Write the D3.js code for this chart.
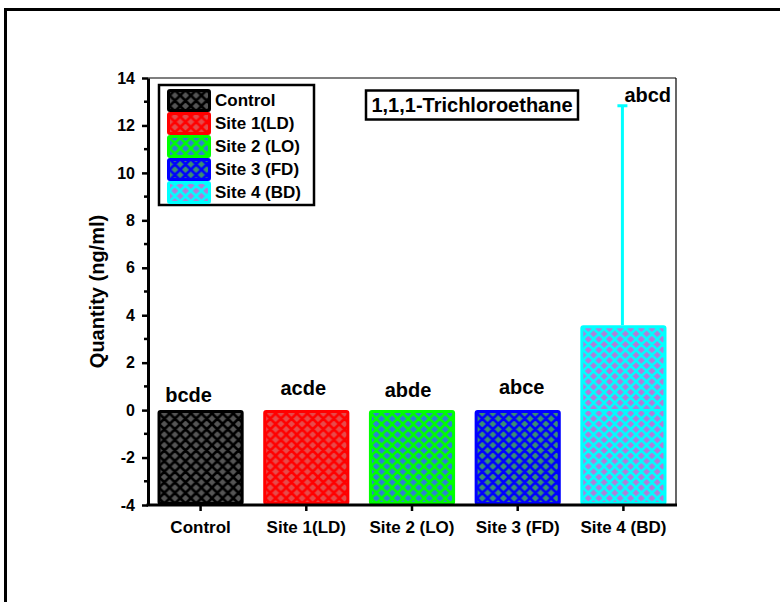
<!DOCTYPE html>
<html><head><meta charset="utf-8">
<script src="https://cdn.jsdelivr.net/npm/d3@7/dist/d3.min.js"></script>
<style>body{margin:0;background:#fff}svg{display:block}text{font-family:"Liberation Sans",Arial,sans-serif;font-weight:bold}</style>
</head><body><svg id="c" width="780" height="602"></svg>
<script>
const categories = ["Control","Site 1(LD)","Site 2 (LO)","Site 3 (FD)","Site 4 (BD)"];
const values = [0, 0, 0, 0, 3.58];
const errors = [0, 0, 0, 0, 9.25];
const letters = ["bcde","acde","abde","abce","abcd"];
const lineColors = ["#000000","#ff0000","#00ff00","#0000ff","#00ffff"];
const fillColors = ["#555555","#e64a4a","#2f7fd6","#3a8f72","#b47bd8"];
const yTicks = [-4,-2,0,2,4,6,8,10,12,14];
const title = "1,1,1-Trichloroethane";
const yLabel = "Quantity (ng/ml)";

const svg = d3.select("#c");
const FF = "Liberation Sans, Arial, sans-serif";
// outer frame
svg.append("rect").attr("x",5.5).attr("y",9.5).attr("width",800).attr("height",700)
  .attr("fill","none").attr("stroke","#000").attr("stroke-width",3);

const L=148, R=676, T=78, B=505;
const x = d3.scaleBand().domain(categories).range([L,R]).paddingInner(0.185).paddingOuter(0.09);
const y = d3.scaleLinear().domain([-4,14]).range([B,T]);

const defs = svg.append("defs");
categories.forEach((c,i)=>{
  const p = defs.append("pattern").attr("id","pat"+i).attr("patternUnits","userSpaceOnUse")
    .attr("width",10.6).attr("height",10.6);
  p.append("rect").attr("width",10.6).attr("height",10.6).attr("fill",fillColors[i]);
  p.append("path").attr("d","M0,0L10.6,10.6M10.6,0L0,10.6M-5.3,5.3L5.3,-5.3M5.3,15.9L15.9,5.3M-5.3,5.3L5.3,15.9M5.3,-5.3L15.9,5.3")
    .attr("stroke",lineColors[i]).attr("stroke-width",2.6).attr("fill","none");
});

// frame top/right thin
svg.append("line").attr("x1",L).attr("x2",R).attr("y1",T).attr("y2",T).attr("stroke","#000").attr("stroke-width",1.2);
svg.append("line").attr("x1",R).attr("x2",R).attr("y1",T).attr("y2",B).attr("stroke","#000").attr("stroke-width",1.2);

// bars
const g = svg.append("g");
categories.forEach((c,i)=>{
  const bx = x(c), bw = x.bandwidth();
  const yt = y(values[i]);
  g.append("rect").attr("x",bx+1.5).attr("y",yt+1.5).attr("width",bw-3).attr("height",B-yt-3)
    .attr("rx",1.5).attr("fill","url(#pat"+i+")").attr("stroke",lineColors[i]).attr("stroke-width",3);
  if (values[i] > 0) {
    g.append("line").attr("x1",bx+1.5).attr("x2",bx+bw-1.5).attr("y1",y(0)).attr("y2",y(0))
      .attr("stroke",lineColors[i]).attr("stroke-width",2);
  }
  if (errors[i] > 0) {
    const cx = bx+bw/2 - 1;
    g.append("line").attr("x1",cx).attr("x2",cx).attr("y1",yt).attr("y2",y(values[i]+errors[i]))
      .attr("stroke",lineColors[i]).attr("stroke-width",3);
    g.append("line").attr("x1",cx-5).attr("x2",cx+5).attr("y1",y(values[i]+errors[i])).attr("y2",y(values[i]+errors[i]))
      .attr("stroke",lineColors[i]).attr("stroke-width",3);
  }
});

// letters
const letterDy = [-8,-15,-13,-16,0];
const letterDx = [-12,-3,-4,4,0];
categories.forEach((c,i)=>{
  const top = values[i]+errors[i];
  const cx = x(c)+x.bandwidth()/2;
  const t = svg.append("text").attr("font-size",20).text(letters[i]);
  if (errors[i] > 0) {
    t.attr("x",cx+1).attr("y",y(top)-4).attr("text-anchor","start");
  } else {
    t.attr("x",cx+letterDx[i]).attr("y",y(top)+letterDy[i]).attr("text-anchor","middle");
  }
});

// axes
const yAxis = d3.axisLeft(y).tickValues(yTicks).tickSize(6).tickSizeOuter(0).tickFormat(d=>String(d));
const ya = svg.append("g").attr("transform",`translate(${L},0)`).call(yAxis);
ya.select(".domain").attr("stroke-width",3);
ya.selectAll(".tick line").attr("stroke-width",2.5);
ya.selectAll(".tick text").attr("font-size",16).attr("font-weight","bold").attr("fill","#000")
  .attr("font-family",FF).attr("dx",-4);
const minor = d3.range(-3,14,2);
svg.append("g").selectAll("line").data(minor).join("line")
  .attr("x1",L-4).attr("x2",L).attr("y1",d=>y(d)).attr("y2",d=>y(d)).attr("stroke","#000").attr("stroke-width",2.5);

const xAxis = d3.axisBottom(x).tickSize(6).tickSizeOuter(0);
const xa = svg.append("g").attr("transform",`translate(0,${B})`).call(xAxis);
xa.select(".domain").attr("stroke-width",3).attr("d",`M${L-1.5},0H${R+1}`);
xa.selectAll(".tick line").attr("stroke-width",2.5);
xa.selectAll(".tick text").attr("font-size",17).attr("font-weight","bold").attr("fill","#000")
  .attr("font-family",FF).attr("y",15.5);

svg.append("text").attr("transform",`translate(104,${(T+B)/2}) rotate(-90)`)
  .attr("text-anchor","middle").attr("font-size",20).text(yLabel);

// title box
svg.append("text").attr("x",472).attr("y",112).attr("text-anchor","middle").attr("font-size",20).text(title);
svg.append("rect").attr("x",366).attr("y",90.5).attr("width",212).attr("height",29)
  .attr("fill","none").attr("stroke","#000").attr("stroke-width",2.5);

// legend
svg.append("rect").attr("x",159).attr("y",85).attr("width",155).attr("height",120)
  .attr("fill","#fff").attr("stroke","#000").attr("stroke-width",2.5);
categories.forEach((c,i)=>{
  const yy = 89 + i*23;
  svg.append("rect").attr("x",168.5).attr("y",yy+1.5).attr("width",41).attr("height",20)
    .attr("rx",1.5).attr("fill","url(#pat"+i+")").attr("stroke",lineColors[i]).attr("stroke-width",3);
  svg.append("text").attr("x",215).attr("y",yy+17).attr("font-size",17).text(c);
});
</script></body></html>
